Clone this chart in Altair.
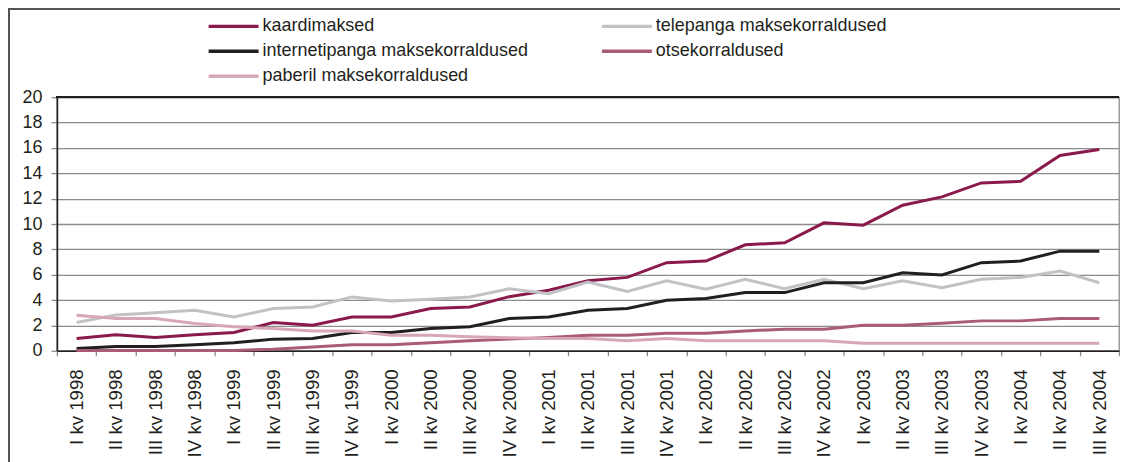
import altair as alt
import pandas as pd

quarters = [
    "I kv 1998", "II kv 1998", "III kv 1998", "IV kv 1998",
    "I kv 1999", "II kv 1999", "III kv 1999", "IV kv 1999",
    "I kv 2000", "II kv 2000", "III kv 2000", "IV kv 2000",
    "I kv 2001", "II kv 2001", "III kv 2001", "IV kv 2001",
    "I kv 2002", "II kv 2002", "III kv 2002", "IV kv 2002",
    "I kv 2003", "II kv 2003", "III kv 2003", "IV kv 2003",
    "I kv 2004", "II kv 2004", "III kv 2004",
]

kaardimaksed = [0.97, 1.26, 1.05, 1.26, 1.44, 2.23, 2.02, 2.67, 2.67, 3.33, 3.46, 4.27, 4.77, 5.53,
                5.79, 6.95, 7.08, 8.36, 8.52, 10.09, 9.91, 11.48, 12.14, 13.24, 13.37, 15.41, 15.88]
telepanga = [2.23, 2.83, 3.01, 3.2, 2.67, 3.33, 3.46, 4.25, 3.93, 4.06, 4.25, 4.9, 4.5, 5.43,
             4.69, 5.53, 4.85, 5.64, 4.9, 5.64, 4.9, 5.53, 4.98, 5.64, 5.79, 6.29, 5.37]
internetipanga = [0.18, 0.34, 0.34, 0.47, 0.63, 0.92, 0.97, 1.44, 1.44, 1.76, 1.89, 2.54, 2.67, 3.2,
                  3.33, 3.98, 4.12, 4.59, 4.59, 5.37, 5.37, 6.16, 5.98, 6.95, 7.08, 7.86, 7.86]
otsekorraldused = [0.03, 0.03, 0.03, 0.03, 0.03, 0.13, 0.3, 0.47, 0.47, 0.63, 0.79, 0.92, 1.05, 1.23,
                   1.23, 1.39, 1.39, 1.57, 1.7, 1.7, 2.02, 2.02, 2.18, 2.36, 2.36, 2.54, 2.54]
paberil = [2.8, 2.54, 2.54, 2.15, 1.89, 1.76, 1.57, 1.57, 1.23, 1.23, 1.1, 1.02, 0.97, 0.97,
           0.79, 0.97, 0.79, 0.79, 0.79, 0.79, 0.6, 0.6, 0.6, 0.6, 0.6, 0.6, 0.6]

series_names = [
    "kaardimaksed",
    "telepanga maksekorraldused",
    "internetipanga maksekorraldused",
    "otsekorraldused",
    "paberil maksekorraldused",
]
series_values = [kaardimaksed, telepanga, internetipanga, otsekorraldused, paberil]
series_colors = ["#8A1A4B", "#C2C2C6", "#231F20", "#AA5B78", "#D8A7B5"]

rows = []
for name, vals in zip(series_names, series_values):
    for q, v in zip(quarters, vals):
        rows.append({"kvartal": q, "seeria": name, "vaartus": v})
df = pd.DataFrame(rows)

FONT = "Liberation Sans"
DARK = "#231F20"
GRID = "#8C8C8C"

lines = alt.Chart(df).mark_line(strokeWidth=3, strokeCap="butt", strokeJoin="miter").encode(
    x=alt.X(
        "kvartal:N",
        sort=quarters,
        bandPosition=0.5,
        scale=alt.Scale(type="band", paddingInner=0, paddingOuter=0),
        axis=alt.Axis(
            title=None,
            labelAngle=270,
            labelAlign="right",
            labelBaseline="middle",
            labelFontSize=18.7,
            labelFont=FONT,
            labelColor=DARK,
            labelPadding=13,
            tickBand="extent",
            tickSize=5,
            tickColor=GRID,
            tickWidth=1.3,
            domainColor=DARK,
            domainWidth=1.6,
            grid=False,
            labelOverlap=False,
        ),
    ),
    y=alt.Y(
        "vaartus:Q",
        scale=alt.Scale(domain=[0, 20], nice=False),
        axis=alt.Axis(
            title=None,
            values=list(range(0, 21, 2)),
            labelFontSize=18,
            labelFont=FONT,
            labelColor=DARK,
            labelPadding=9,
            tickSize=6,
            tickColor=GRID,
            tickWidth=1.3,
            domainColor=DARK,
            domainWidth=1.6,
            grid=True,
            gridColor=GRID,
            gridWidth=1.3,
        ),
    ),
    color=alt.Color(
        "seeria:N",
        sort=series_names,
        scale=alt.Scale(domain=series_names, range=series_colors),
        legend=alt.Legend(
            title=None,
            orient="none",
            direction="horizontal",
            legendX=150,
            legendY=-80,
            columns=2,
            columnPadding=71,
            rowPadding=7,
            clipHeight=18,
            symbolType="stroke",
            symbolSize=2500,
            symbolStrokeWidth=3.5,
            labelFontSize=18,
            labelFont=FONT,
            labelColor=DARK,
            labelOffset=2,
            labelLimit=400,
        ),
    ),
)

top_rule = alt.Chart(df).mark_rule(color=DARK, strokeWidth=1.6).encode(
    x=alt.value(0), x2=alt.value(1064), y=alt.value(0)
)
frame_top = alt.Chart(df).mark_rule(color="#555555", strokeWidth=1.4).encode(
    x=alt.value(-49), x2=alt.value(1100), y=alt.value(-88.5)
)
frame_left = alt.Chart(df).mark_rule(color="#555555", strokeWidth=1.4).encode(
    x=alt.value(-48.5), y=alt.value(-89), y2=alt.value(400)
)

chart = alt.layer(frame_top, frame_left, lines, top_rule).properties(
    width=1064,
    height=254,
    autosize=alt.AutoSizeParams(type="none"),
    padding={"left": 49, "top": 89, "right": 1, "bottom": 111},
).configure_view(stroke=GRID, strokeWidth=1.3)

chart.save("out.html", embed_options={"renderer": "svg", "actions": False})
